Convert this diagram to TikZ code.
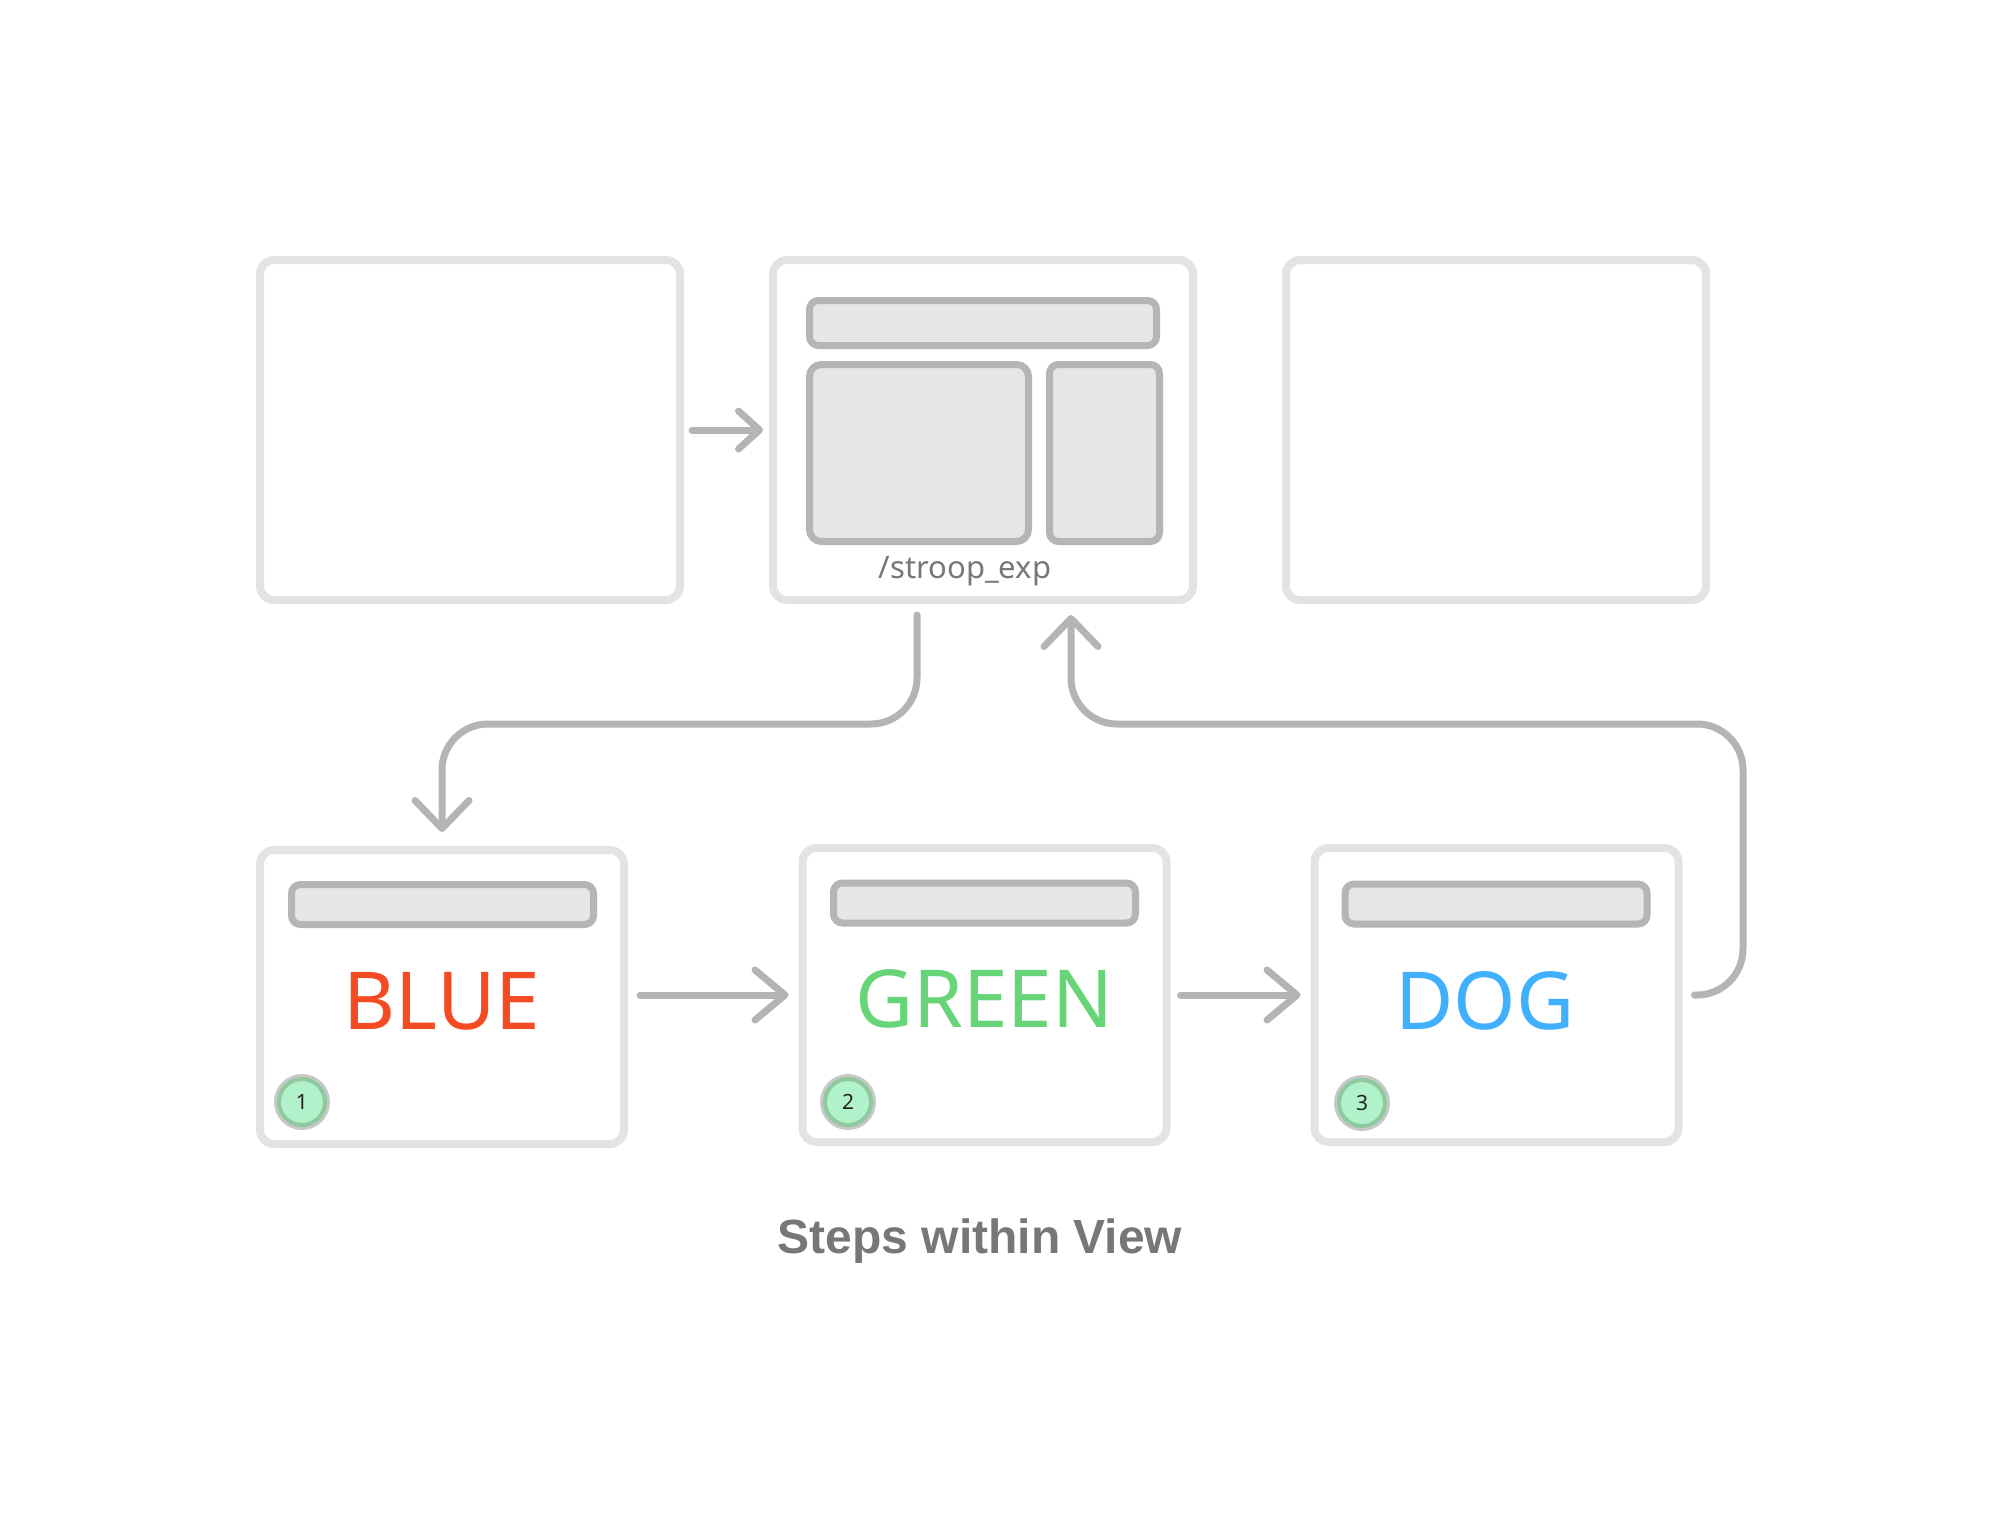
\documentclass[tikz,border=0pt]{standalone}
\usepackage{fontspec}
\setmainfont{Noto Sans}
\newfontfamily\titlefont{Liberation Sans}
\usetikzlibrary{arrows.meta, positioning}

\definecolor{framegray}{HTML}{E3E3E3}
\definecolor{panelgray}{HTML}{B5B5B5}
\definecolor{panelfill}{HTML}{E6E6E6}
\definecolor{conngray}{HTML}{B4B4B4}
\definecolor{textgray}{HTML}{777777}
\definecolor{badgeedge}{HTML}{C8C8C8}
\definecolor{badgering}{HTML}{8FC9A0}
\definecolor{badgefill}{HTML}{B2F2CB}
\definecolor{badgetext}{HTML}{222222}
\definecolor{wordred}{HTML}{F44B22}
\definecolor{wordgreen}{HTML}{67D577}
\definecolor{wordblue}{HTML}{40AFFD}

\begin{document}
\begin{tikzpicture}[x=1pt, y=-1pt, >={Straight Barb[length=28pt, width=54pt, round]}]
  \tikzstyle{screen} = [draw=framegray, fill=white, line width=8pt, rounded corners=14pt]
  \tikzstyle{viewbox} = [screen, minimum width=420pt, minimum height=340pt]
  \tikzstyle{stepbox} = [screen, minimum width=364pt, minimum height=294pt]
  \tikzstyle{panel} = [draw=panelgray, fill=panelfill, line width=7pt, rounded corners=9pt, inner sep=0pt]
  \tikzstyle{word} = [font=\fontsize{80}{80}\selectfont, anchor=base]
  \tikzstyle{badge} = [circle, draw=badgering, fill=badgefill, line width=4pt, minimum size=46pt, inner sep=0pt,
    preaction={draw=badgeedge, line width=10pt}, text=badgetext, font=\fontsize{21}{21}\selectfont]
  \tikzstyle{conn} = [draw=conngray, line width=7pt, line cap=round, rounded corners=46pt]
  \tikzstyle{tmp} = [coordinate]
  \useasboundingbox (0,0) rectangle (2003,1519);

  % views
  \node [viewbox] (prev) at (470,430) {};
  \node [viewbox] (view) at (983,430) {};
  \node [viewbox] (next) at (1496,430) {};
  \node [panel, minimum width=347pt, minimum height=45pt] (header) at (983,323) {};
  \node [panel, minimum width=219pt, minimum height=177pt, rounded corners=12pt] (content) at (919,453) {};
  \node [panel, minimum width=110pt, minimum height=177pt] (sidebar) at (1104.5,453) {};
  \node [anchor=base, text=textgray, font=\fontsize{31}{31}\selectfont] (route) at (965,578) {/stroop\_exp};

  % steps
  \node [stepbox] (step1) at (442,997) {};
  \node [stepbox] (step2) at (984.5,995) {};
  \node [stepbox] (step3) at (1496.5,995) {};
  \foreach \s/\x/\y in {1/442.5/904.5, 2/984.5/903, 3/1496/904}
    \node [panel, minimum width=302pt, minimum height=40pt] (bar\s) at (\x,\y) {};
  \node [word, text=wordred] (blue) at (442,1029) {BLUE};
  \node [word, text=wordgreen] (green) at (984,1027) {GREEN};
  \node [word, text=wordblue] (dog) at (1485,1029) {DOG};
  \node [badge] (num1) at (302,1102) {1};
  \node [badge] (num2) at (848,1102) {2};
  \node [badge] (num3) at (1362,1103) {3};

  \node [anchor=base, text=textgray, font=\titlefont\bfseries\fontsize{48}{48}\selectfont] (title) at (980,1253) {Steps within View};

  \node [tmp] (level) at (0,724) {};
  \node [tmp] (loopx) at (1743,0) {};

  \draw [conn, ->, >={Straight Barb[length=21pt, width=38pt, round]}, shorten <=8pt, shorten >=6pt] (prev) -- (view);
  \draw [conn, ->, >={Straight Barb[length=30pt, width=50pt, round]}, shorten <=12pt, shorten >=10pt] (step1.east |- step2) -- (step2.west);
  \draw [conn, ->, >={Straight Barb[length=30pt, width=50pt, round]}, shorten <=10pt, shorten >=10pt] (step2) -- (step3);
  \draw [conn, ->, shorten <=11pt, shorten >=14pt] ([xshift=-66pt]view.south) -- ([xshift=-66pt]view.south |- level) -| (step1.north);
  \draw [conn, ->, shorten <=12pt, shorten >=11pt] (step3.east) -- (step3.east -| loopx) -- (loopx |- level) -| ([xshift=88pt]view.south);
\end{tikzpicture}
\end{document}
